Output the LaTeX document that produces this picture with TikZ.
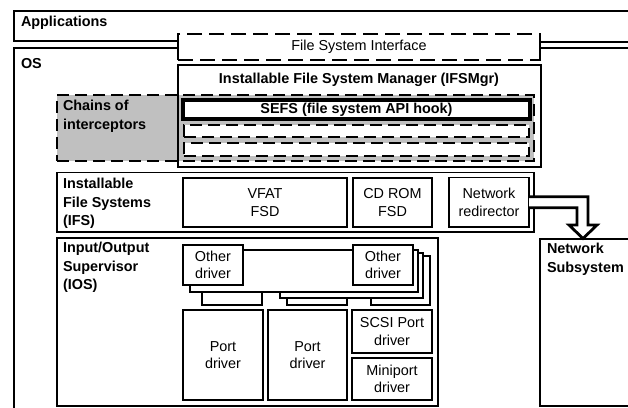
\documentclass[tikz,border=0pt]{standalone}
\usepackage{fontspec}
\setmainfont{Liberation Sans}
\definecolor{chaingray}{RGB}{192,192,192}
\tikzset{
  every node/.style={font=\fontsize{14.4}{17.5}\selectfont, inner sep=0pt, outer sep=0pt},
  outer/.style={line width=2.4pt},
  bold/.style={font=\fontsize{14.4}{18.3}\selectfont\bfseries},
  lbl/.style={bold, anchor=north west, align=left},
  thinbox/.style={draw, line width=1.1pt, fill=white, align=center},
  fsibox/.style={draw, line width=2.4pt, dash pattern=on 15pt off 7pt},
  chainbox/.style={draw, line width=1.5pt, dash pattern=on 12pt off 6pt, fill=chaingray},
  slotbox/.style={draw, line width=1.5pt, dash pattern=on 12pt off 6pt, fill=white},
  mgrbox/.style={draw, line width=2.4pt},
  sefsbox/.style={draw, line width=4pt, fill=white, bold},
  hollow/.style={line width=2.8pt, fill=white, line join=miter},
  stack/.style={line width=1.1pt, fill=white}
}
\begin{document}
\begin{tikzpicture}[x=1pt, y=-1pt]
\useasboundingbox (0,0) rectangle (628,407);
\clip (0,0) rectangle (628,407);
\fill[white] (0,0) rectangle (628,407);

% Applications and OS outlines
\draw[outer] (640,11) -- (14,11) -- (14,41) -- (178,41) -- (178,34);
\draw[outer] (540,34) -- (540,42) -- (640,42);
\draw[outer] (640,48) -- (540,48) -- (540,60);
\draw[outer] (178,60) -- (178,48) -- (14,48) -- (14,420);
\node[bold, anchor=base west] (apps) at (21,26) {Applications};
\node[bold, anchor=base west] (os) at (21,68.5) {OS};

% File System Interface
\node[fsibox, minimum width=362pt, minimum height=26pt] (fsi) at (359,47) {File System Interface};

% Chains of interceptors
\node[chainbox, anchor=north west, minimum width=477pt, minimum height=66pt] (chain) at (57,95) {};
\node[lbl] (chainlbl) at (63,100.5) {Chains of\\interceptors};

% IFSMgr
\node[mgrbox, anchor=north west, minimum width=363pt, minimum height=102pt] (ifsmgr) at (178,65) {};
\node[bold] (ifsmgrtitle) at (359,80) {Installable File System Manager (IFSMgr)};
\node[sefsbox, minimum width=347pt, minimum height=19pt] (sefs) at (356.5,109.5) {SEFS (file system API hook)};
\node[slotbox, minimum width=345pt, minimum height=12pt] (slota) at (356.5,131) {};
\node[slotbox, minimum width=345pt, minimum height=13pt] (slotb) at (356.5,149.5) {};

% IFS
\node[thinbox, minimum width=477pt, minimum height=59.5pt] (ifs) at (295.5,202.25) {};
\node[lbl] (ifslbl) at (63,178.3) {Installable\\File Systems\\(IFS)};
\node[thinbox, minimum width=164pt, minimum height=49pt] (vfat) at (265,202.5) {VFAT\\FSD};
\node[thinbox, minimum width=79pt, minimum height=49pt] (cdrom) at (392.5,202.5) {CD ROM\\FSD};
\node[thinbox, minimum width=80pt, minimum height=49.5pt] (netredir) at (489,202.25) {Network\\redirector};

% Network subsystem
\node[thinbox, anchor=north west, minimum width=100pt, minimum height=167pt] (netsub) at (540,239) {};
\node[lbl] (netsublbl) at (547,243.3) {Network\\Subsystem};

% hollow arrow
\coordinate (tip) at (583,238.5);
\draw[hollow] ([yshift=5.5pt]netredir.east) -- (588,196.75) -- (588,225) -- (597,225) -- (tip)
  -- (569,225) -- (577,225) -- (577,207.75) -- ([yshift=-5.5pt]netredir.east);

% IOS
\node[thinbox, anchor=north west, minimum width=381pt, minimum height=168pt] (ios) at (57,238) {};
\node[lbl] (ioslbl) at (63,242.5) {Input/Output\\Supervisor\\(IOS)};

% driver stack (back to front)
\draw[stack] (202,280) rectangle (262,305);
\draw[stack] (287,280) rectangle (347,305);
\draw[stack] (371,256) rectangle (430,305);
\draw[stack] (280,253) rectangle (423,298);
\draw[stack] (190,250) rectangle (418,292);
\node[thinbox, minimum width=60pt, minimum height=40pt] (otherl) at (213,265) {Other\\driver};
\node[thinbox, minimum width=60pt, minimum height=40pt] (otherr) at (383,265) {Other\\driver};

% port drivers
\node[thinbox, minimum width=80pt, minimum height=90pt] (port1) at (223,355) {Port\\driver};
\node[thinbox, minimum width=79pt, minimum height=90pt] (port2) at (307.5,355) {Port\\driver};
\node[thinbox, minimum width=80pt, minimum height=43pt] (scsi) at (392,331.5) {SCSI Port\\driver};
\node[thinbox, minimum width=80pt, minimum height=42pt] (mini) at (392,379) {Miniport\\driver};
\end{tikzpicture}
\end{document}
